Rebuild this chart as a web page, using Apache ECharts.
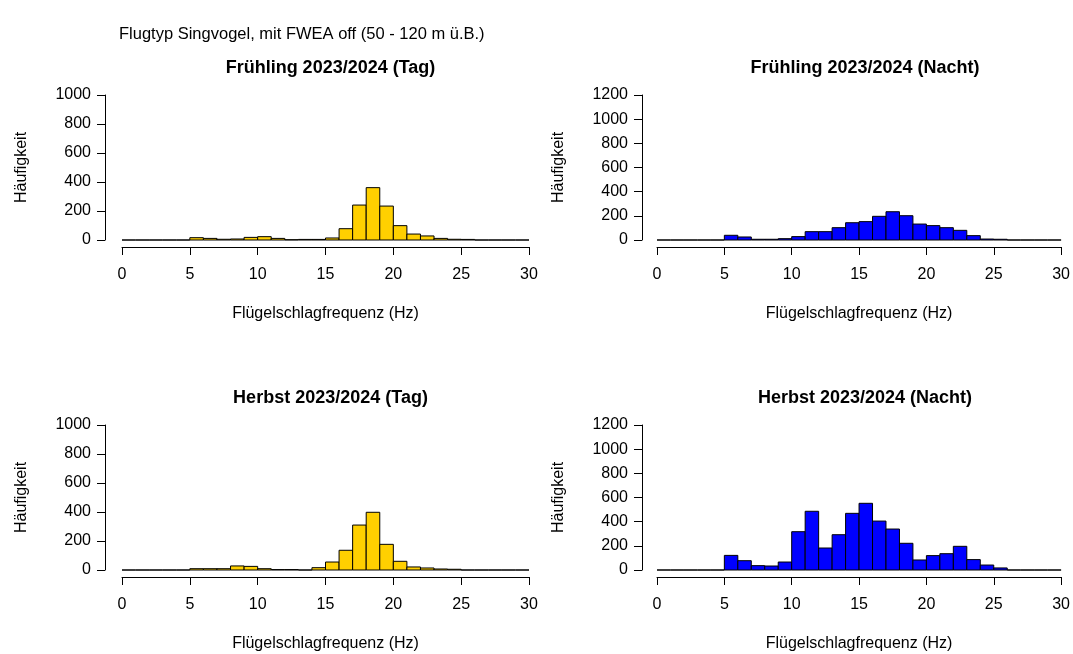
<!DOCTYPE html>
<html><head><meta charset="utf-8">
<script src="https://cdn.jsdelivr.net/npm/echarts@6/dist/echarts.min.js"></script>
<style>html,body{margin:0;padding:0;background:#fff}#c{width:1073px;height:654px}</style>
</head><body><div id="c"></div>
<script>
const binStarts = [0,1,2,3,4,5,6,7,8,9,10,11,12,13,14,15,16,17,18,19,20,21,22,23,24,25,26,27,28,29];
const springDay   = [0,0,0,0,0,16,11,5,7,18,23,11,2,4,4,14,78,241,361,234,99,41,28,11,5,4,0,0,0,0];
const springNight = [0,0,0,0,0,39,25,6,6,11,28,69,69,102,143,152,196,234,201,132,119,102,80,36,8,6,0,0,0,0];
const autumnDay   = [0,0,0,0,0,9,9,9,28,25,9,3,3,0,16,55,136,310,398,177,60,21,14,7,5,0,0,0,0,0];
const autumnNight = [0,0,0,0,0,121,77,36,33,66,317,486,182,292,469,552,405,339,221,83,119,135,196,86,41,17,0,0,0,0];
const xTicks = [0,5,10,15,20,25,30];
const mainTitle = 'Flugtyp Singvogel, mit FWEA off (50 - 120 m ü.B.)';
const panelTitles = ['Frühling 2023/2024 (Tag)','Frühling 2023/2024 (Nacht)','Herbst 2023/2024 (Tag)','Herbst 2023/2024 (Nacht)'];
const xName = 'Flügelschlagfrequenz (Hz)';
const yName = 'Häufigkeit';
const yMax = [1000,1200,1000,1200];

const panels = [springDay, springNight, autumnDay, autumnNight];
const colors = ['#FFD000','#0000FF','#FFD000','#0000FF'];
const FONT = '"Liberation Sans", Arial, sans-serif';
const grids = [
  {left:122, top:95, width:407, height:145},
  {left:657, top:95, width:406, height:145},
  {left:122, top:425, width:407, height:145},
  {left:657, top:425, width:406, height:145}
];
const yOffsets = [17,15,17,15];

const chart = echarts.init(document.getElementById('c'));
const titles = [{text: mainTitle, left:114, top:21, textStyle:{fontFamily:FONT, fontSize:16.5, fontWeight:'normal', color:'#000'}}];
panelTitles.forEach((t,i)=>{
  titles.push({text:t, left: grids[i].left + grids[i].width/2, top: grids[i].top - 41, textAlign:'center',
    textStyle:{fontFamily:FONT, fontSize:18, fontWeight:'bold', color:'#000'}});
});
const axisCommon = {
  axisLine:{show:true, onZero:false, lineStyle:{color:'#000', width:1}},
  axisTick:{show:true, inside:false, length:8, lineStyle:{color:'#000'}},
  splitLine:{show:false},
  nameTextStyle:{fontFamily:FONT, fontSize:16, color:'#000'},
};
const xAxes = grids.map((g,i)=>Object.assign({}, axisCommon, {
  gridIndex:i, type:'value', min:0, max:30, interval:5, offset:7, position:'bottom',
  axisLabel:{fontFamily:FONT, fontSize:16, color:'#000', margin:20, formatter:v=>xTicks.includes(v)?String(v):''},
  name:xName, nameLocation:'middle', nameGap:59
}));
const yAxes = grids.map((g,i)=>Object.assign({}, axisCommon, {
  gridIndex:i, type:'value', min:0, max:yMax[i], interval:200, offset:yOffsets[i], position:'left',
  axisLabel:{fontFamily:FONT, fontSize:16, color:'#000', margin:14, formatter:v=>String(v)},
  name:yName, nameLocation:'middle', nameGap: 75, nameRotate:90
}));
const series = panels.map((vals,i)=>({
  type:'custom', xAxisIndex:i, yAxisIndex:i, clip:false,
  data: binStarts.map((b,k)=>[b, vals[k]]),
  renderItem:function(params, api){
    const x0 = api.value(0), v = api.value(1);
    const p0 = api.coord([x0, 0]);
    const p1 = api.coord([x0+1, v]);
    return {type:'rect', shape:{x:p0[0], y:p1[1], width:p1[0]-p0[0], height:p0[1]-p1[1]},
      style:{fill:colors[i], stroke:'#000', lineWidth:1}};
  }
}));
chart.setOption({
  animation:false,
  backgroundColor:'#fff',
  title:titles,
  grid:grids,
  xAxis:xAxes,
  yAxis:yAxes,
  series:series
});
</script></body></html>
